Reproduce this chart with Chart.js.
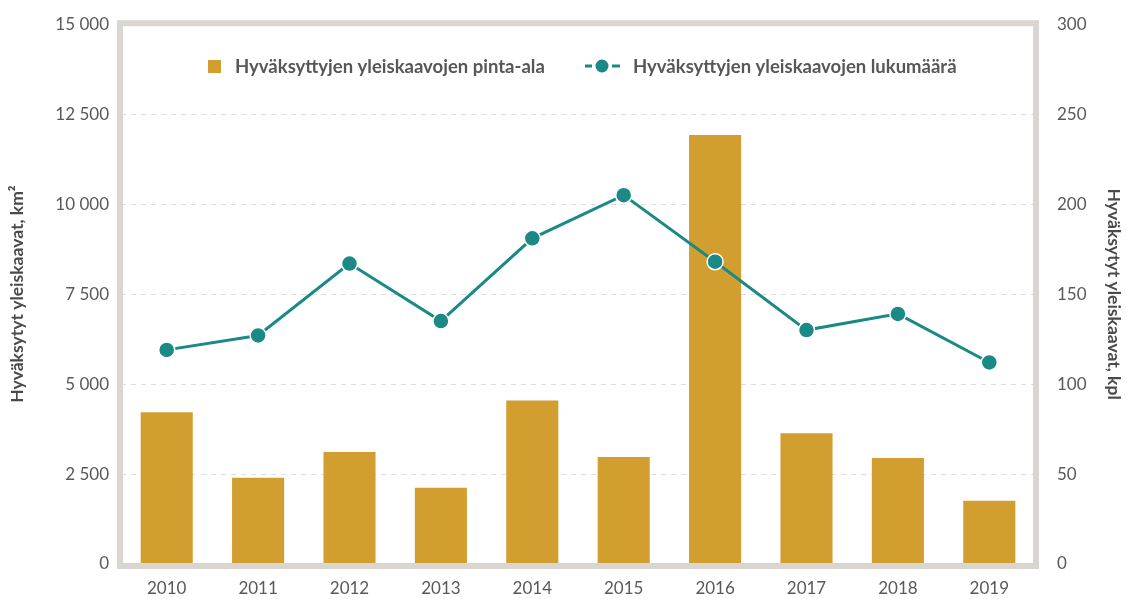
<!DOCTYPE html>
<html>
<head>
  <meta charset="utf-8">
  <title>Yleiskaavat</title>
  <script src="https://cdn.jsdelivr.net/npm/chart.js@4/dist/chart.umd.min.js"></script>
  <style>
    body { margin: 0; background: #fff; }
    #wrap { position: relative; width: 1127px; height: 599px; }
  </style>
</head>
<body>
  <div id="wrap"><canvas id="canvas" width="1127" height="599"></canvas></div>
  <script>
    // data
    const years = ['2010', '2011', '2012', '2013', '2014', '2015', '2016', '2017', '2018', '2019'];
    const pintaAla = [4220, 2400, 3110, 2120, 4540, 2970, 11920, 3630, 2945, 1760];
    const lukumaara = [119, 127, 167, 135, 181, 205, 168, 130, 139, 112];

    const barLabel = 'Hyväksyttyjen yleiskaavojen pinta-ala';
    const lineLabel = 'Hyväksyttyjen yleiskaavojen lukumäärä';
    const leftTitle = 'Hyväksytyt yleiskaavat, km²';
    const rightTitle = 'Hyväksytyt yleiskaavat, kpl';

    const gold = '#D29E2F';
    const teal = '#1B8985';
    const font = 'Lato, "Open Sans", sans-serif';

    // thick light frame round the plot area
    const framePlugin = {
      id: 'frame',
      afterDraw(chart) {
        const a = chart.chartArea, ctx = chart.ctx;
        ctx.save();
        ctx.strokeStyle = '#d9d5d0';
        ctx.lineWidth = 6;
        ctx.strokeRect(a.left - 1, a.top - 1, a.right - a.left + 2, a.bottom - a.top + 3);
        ctx.restore();
      }
    };

    // legend inside the plot, like the original
    const legendPlugin = {
      id: 'innerLegend',
      afterDraw(chart) {
        const ctx = chart.ctx;
        const y = 66;
        ctx.save();
        ctx.font = 'bold 18.5px ' + font;
        ctx.textBaseline = 'middle';
        // bar item
        ctx.fillStyle = gold;
        ctx.fillRect(208, y - 6, 13, 13);
        ctx.fillStyle = '#575757';
        ctx.fillText(chart.data.datasets[1].label, 235, y + 1);
        // line item
        ctx.strokeStyle = teal;
        ctx.lineWidth = 3;
        ctx.beginPath();
        ctx.moveTo(585, y); ctx.lineTo(592, y);
        ctx.moveTo(612, y); ctx.lineTo(620, y);
        ctx.stroke();
        ctx.fillStyle = teal;
        ctx.beginPath();
        ctx.arc(602, y, 6.5, 0, Math.PI * 2);
        ctx.fill();
        ctx.fillStyle = '#575757';
        ctx.fillText(chart.data.datasets[0].label, 633, y + 1);
        ctx.restore();
      }
    };

    function spaced(v) {
      return String(v).replace(/\B(?=(\d{3})+(?!\d))/g, ' ');
    }

    const chart1 = new Chart(document.getElementById('canvas'), {
      type: 'bar',
      data: {
        labels: years,
        datasets: [{
          type: 'line',
          label: lineLabel,
          data: lukumaara,
          yAxisID: 'y2',
          borderColor: teal,
          borderWidth: 3,
          backgroundColor: teal,
          pointRadius: 8,
          pointBorderColor: '#fff',
          pointBorderWidth: 1.5,
          pointBackgroundColor: teal,
          order: 0
        }, {
          label: barLabel,
          data: pintaAla,
          yAxisID: 'y',
          backgroundColor: gold,
          barPercentage: 0.57,
          categoryPercentage: 1,
          order: 1
        }]
      },
      options: {
        responsive: false,
        animation: false,
        layout: { padding: { top: 19, left: 0, right: 0, bottom: 0 } },
        plugins: { legend: { display: false }, tooltip: { enabled: false } },
        scales: {
          x: {
            grid: { display: false },
            border: { display: false },
            ticks: { color: '#595959', font: { family: font, size: 17 }, padding: 6, maxRotation: 0, autoSkip: false },
            afterFit(s) { s.height = 35; }
          },
          y: {
            position: 'left',
            min: 0, max: 15000,
            ticks: {
              stepSize: 2500, color: '#595959', padding: 12,
              font: { family: font, size: 17 },
              callback: v => spaced(v)
            },
            grid: {
              drawTicks: false,
              color: c => (c.tick.value === 0 || c.tick.value === 15000) ? 'rgba(0,0,0,0)' : '#dedede'
            },
            border: { display: false, dash: [5, 5] },
            title: {
              display: true, text: leftTitle, color: '#4a4a4a',
              font: { family: font, size: 17.5, weight: 'bold' }, padding: { top: 7, bottom: 0 }
            },
            afterFit(s) { s.width = 121; }
          },
          y2: {
            position: 'right',
            min: 0, max: 300,
            ticks: { stepSize: 50, color: '#595959', padding: 14, font: { family: font, size: 17 } },
            grid: { display: false },
            border: { display: false },
            title: {
              display: true, text: rightTitle, color: '#4a4a4a',
              font: { family: font, size: 17.5, weight: 'bold' }, padding: { top: 3, bottom: 0 }
            },
            afterFit(s) { s.width = 92; }
          }
        }
      },
      plugins: [framePlugin, legendPlugin]
    });
  </script>
</body>
</html>
